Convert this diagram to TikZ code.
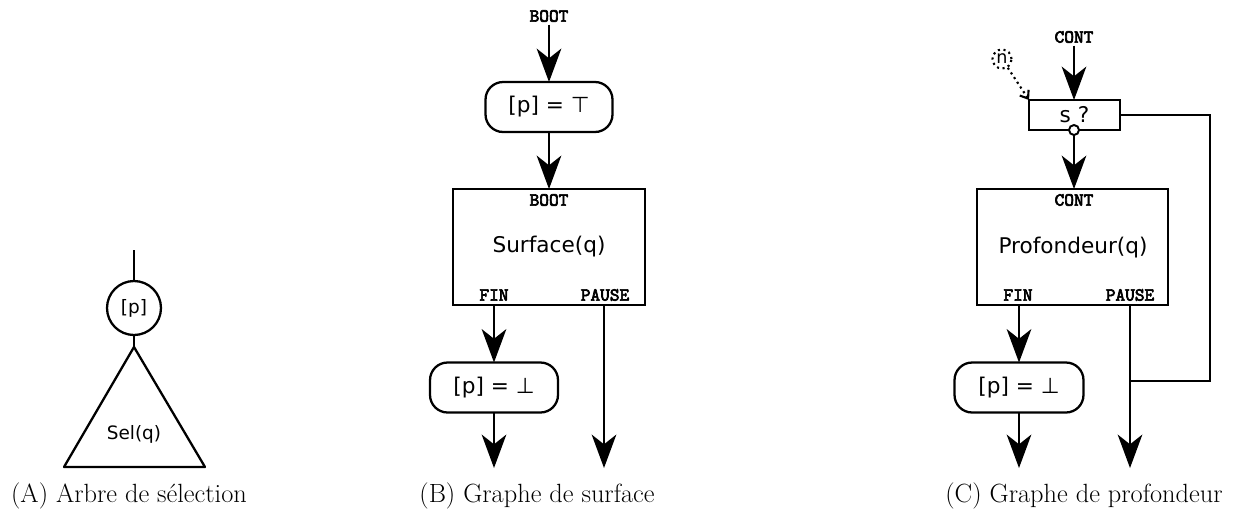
\documentclass[tikz,border=0pt]{standalone}
\usepackage{fontspec}
\newfontfamily\dejavu{DejaVu Sans}
\newfontfamily\tagfont[FakeBold=3.5]{lmmono10-regular.otf}
\usetikzlibrary{arrows.meta}

\begin{document}
\begin{tikzpicture}[x=0.02cm, y=-0.02cm, line width=1.3pt,
  flow/.style={-{Stealth[length=19pt, width=14pt, inset=5.5pt]}},
  sans/.style={font=\dejavu\fontsize{12.3}{14}\selectfont},
  smallsans/.style={font=\dejavu\fontsize{10.5}{12}\selectfont},
  tag/.style={font=\tagfont\fontsize{10.5}{11}\selectfont, inner sep=1pt},
  pill/.style={draw, rounded corners=10pt, minimum height=1cm, inner sep=0pt, outer sep=0pt, sans},
  bigbox/.style={draw, minimum width=3.84cm, minimum height=2.32cm, inner sep=0pt, outer sep=0pt},
  caption/.style={anchor=base, font=\fontsize{15}{18}\selectfont, inner sep=0pt}]

\useasboundingbox (0,0) rectangle (1240,515);

% ---------- (A) selection tree ----------
\coordinate (atop) at (134,250);
\node[circle, draw, minimum size=1.08cm, inner sep=0pt, outer sep=0pt, smallsans] (pa) at (134,308) {[p]};
\coordinate (apex) at (134,347);
\coordinate (bl) at (64,467);
\coordinate (br) at (205,467);
\draw (atop) -- (pa.north);
\draw (pa.south) -- (apex);
\draw[line join=round] (apex) -- (bl) -- (br) -- cycle;
\node[smallsans] (sel) at (134,434) {Sel(q)};
\node[caption] (capa) at (129,502) {(A) Arbre de sélection};

% ---------- (B) surface graph ----------
\node[tag] (bootin) at (549,16) {BOOT};
\node[pill, minimum width=2.54cm] (ptop) at (549,107) {[p] = ⊤};
\node[bigbox] (surf) at (549,247) {};
\node[tag] (surfboot) at (549,200) {BOOT};
\node[sans] (surfname) at (549,247) {Surface(q)};
\node[tag] (surffin) at (494,295) {FIN};
\node[tag] (surfpause) at (605,295) {PAUSE};
\node[pill, minimum width=2.56cm] (pbotb) at (494,387.5) {[p] = ⊥};
\coordinate (bpause) at (604,305);
\coordinate (boutl) at (494,468);
\coordinate (boutr) at (604,468);
\draw[flow] (bootin) -- (ptop);
\draw[flow] (ptop) -- (surf);
\draw[flow] (surf.south -| pbotb) -- (pbotb);
\draw[flow] (pbotb) -- (boutl);
\draw[flow] (bpause) -- (boutr);
\node[caption] (capb) at (537,502) {(B) Graphe de surface};

% ---------- (C) depth graph ----------
\node[tag] (contin) at (1074,37) {CONT};
\node[draw, minimum width=1.82cm, minimum height=0.6cm, inner sep=0pt, outer sep=0pt, sans] (test) at (1074.5,115) {s ?};
\node[circle, draw, fill=white, minimum size=0.2cm, inner sep=0pt, outer sep=0pt, line width=1.1pt] (neg) at (1074,130) {};
\node[circle, draw, dotted, line width=1.2pt, minimum size=0.38cm, inner sep=0pt, font=\dejavu\fontsize{10}{11}\selectfont] (nn) at (1002,59) {n};
\node[bigbox, minimum width=3.82cm] (prof) at (1072.5,247) {};
\node[tag] (profcont) at (1074,200) {CONT};
\node[sans] (profname) at (1073,248) {Profondeur(q)};
\node[tag] (proffin) at (1018,295) {FIN};
\node[tag] (profpause) at (1130,295) {PAUSE};
\node[pill, minimum width=2.58cm] (pbotc) at (1019,387.5) {[p] = ⊥};
\coordinate (cpause) at (1130,305);
\coordinate (coutl) at (1019,468);
\coordinate (coutr) at (1130,468);
\coordinate (loopc) at (1210,381);
\coordinate (join) at (1130,381);
\draw[flow] (contin) -- (contin |- test.north);
\draw[flow] (neg) -- (neg |- prof.north);
\draw[dotted, line width=1.2pt, -{Straight Barb[length=4pt, width=6pt]}] (nn) -- (test.north west);
\draw[flow] (prof.south -| pbotc) -- (pbotc);
\draw[flow] (pbotc) -- (coutl);
\draw[flow] (cpause) -- (coutr);
\draw (test.east) -| (loopc) -- (join);
\node[caption] (capc) at (1084,502) {(C) Graphe de profondeur};

\end{tikzpicture}
\end{document}
